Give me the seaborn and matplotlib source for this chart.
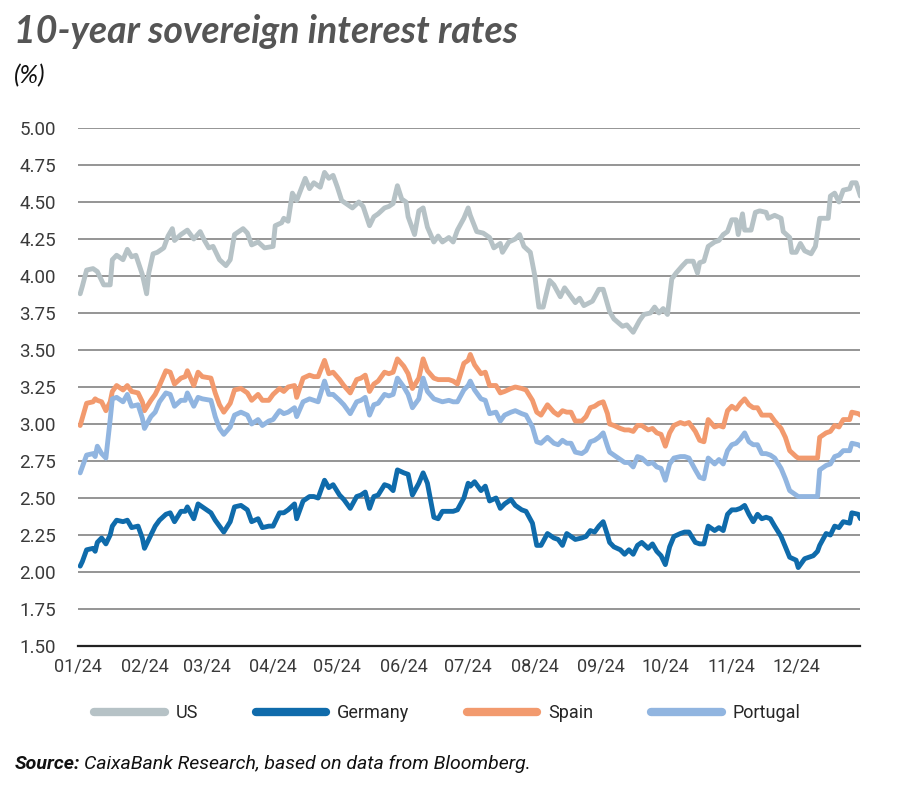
import pandas as pd
import numpy as np
import matplotlib
matplotlib.use("Agg")
import matplotlib.pyplot as plt
import matplotlib.dates as mdates
import seaborn as sns

# ---- data (day offsets from 1 Jan 2024) ----
us_days = [1, 2, 4, 7, 9, 12, 15, 16, 18, 21, 23, 25, 27, 30, 32, 33, 35, 37, 40, 42,
           44, 45, 48, 51, 54, 57, 59, 61, 63, 66, 69, 71, 73, 77, 79, 81, 84, 87, 91, 92,
           95, 96, 98, 100, 102, 106, 108, 110, 113, 115, 117, 119, 121, 123, 125, 128, 131, 133, 136, 138,
           140, 143, 145, 147, 149, 151, 153, 154, 157, 159, 161, 163, 166, 168, 170, 173, 175, 177, 180, 182,
           183, 186, 189, 192, 194, 197, 198, 201, 204, 206, 208, 211, 213, 215, 217, 220, 222, 225, 227, 229,
           232, 234, 236, 240, 243, 245, 248, 250, 254, 256, 259, 262, 264, 267, 269, 271, 273, 275, 277, 279,
           282, 284, 287, 289, 290, 292, 294, 297, 299, 301, 303, 305, 307, 308, 310, 311, 314, 316, 318, 321,
           322, 325, 328, 329, 332, 333, 335, 337, 339, 342, 344, 346, 350, 351, 353, 355, 357, 360, 361, 363,
           365]
us_rates = [3.88, 3.93, 4.04, 4.05, 4.03, 3.94, 3.94, 4.11, 4.14, 4.11, 4.18, 4.13, 4.14, 4.01, 3.88, 4.02, 4.15, 4.16, 4.19, 4.27,
            4.32, 4.24, 4.28, 4.31, 4.25, 4.30, 4.24, 4.19, 4.20, 4.11, 4.07, 4.11, 4.28, 4.32, 4.29, 4.21, 4.23, 4.19, 4.20, 4.34,
            4.36, 4.39, 4.37, 4.56, 4.51, 4.66, 4.59, 4.63, 4.60, 4.70, 4.66, 4.68, 4.60, 4.51, 4.49, 4.46, 4.50, 4.47, 4.34, 4.40,
            4.42, 4.46, 4.47, 4.49, 4.61, 4.52, 4.50, 4.40, 4.28, 4.44, 4.46, 4.33, 4.23, 4.27, 4.23, 4.26, 4.23, 4.31, 4.39, 4.46,
            4.41, 4.30, 4.29, 4.26, 4.19, 4.22, 4.16, 4.23, 4.25, 4.28, 4.20, 4.16, 4.01, 3.79, 3.79, 3.97, 3.94, 3.86, 3.92, 3.88,
            3.82, 3.85, 3.80, 3.83, 3.91, 3.91, 3.76, 3.71, 3.66, 3.67, 3.62, 3.70, 3.74, 3.75, 3.79, 3.75, 3.78, 3.74, 3.98, 4.02,
            4.07, 4.10, 4.10, 4.02, 4.09, 4.10, 4.20, 4.23, 4.24, 4.28, 4.30, 4.38, 4.38, 4.28, 4.42, 4.31, 4.31, 4.43, 4.44, 4.43,
            4.39, 4.41, 4.39, 4.30, 4.26, 4.16, 4.16, 4.22, 4.17, 4.15, 4.20, 4.39, 4.39, 4.54, 4.56, 4.50, 4.58, 4.59, 4.63, 4.63,
            4.54]

eu_days = [1, 2, 4, 7, 8, 9, 11, 13, 15, 16, 18, 21, 23, 25, 28, 30, 31, 34, 36, 38,
           41, 43, 45, 48, 50, 51, 54, 56, 58, 62, 64, 66, 68, 71, 73, 76, 79, 81, 84, 86,
           89, 91, 94, 96, 98, 101, 102, 105, 108, 110, 112, 115, 117, 119, 122, 124, 127, 130, 132, 134,
           136, 138, 140, 143, 145, 147, 149, 152, 154, 156, 159, 161, 163, 166, 168, 170, 173, 175, 177, 180,
           182, 183, 185, 188, 190, 192, 195, 197, 199, 202, 204, 207, 209, 212, 214, 216, 219, 222, 224, 226,
           228, 230, 232, 235, 237, 239, 241, 243, 245, 247, 248, 250, 253, 255, 257, 259, 261, 263, 266, 268,
           270, 272, 274, 276, 278, 281, 283, 285, 288, 290, 292, 294, 297, 299, 301, 303, 305, 307, 309, 311,
           313, 315, 317, 319, 321, 323, 325, 328, 330, 332, 335, 336, 339, 341, 343, 345, 346, 349, 351, 353,
           355, 357, 360, 361, 364, 365]
spain = [2.99, 3.04, 3.14, 3.15, 3.17, 3.16, 3.15, 3.09, 3.15, 3.22, 3.26, 3.23, 3.26, 3.22, 3.21, 3.15, 3.09, 3.16, 3.20, 3.26,
         3.36, 3.35, 3.27, 3.31, 3.32, 3.36, 3.26, 3.35, 3.32, 3.31, 3.21, 3.13, 3.08, 3.14, 3.23, 3.24, 3.21, 3.16, 3.20, 3.16,
         3.16, 3.20, 3.24, 3.22, 3.25, 3.26, 3.18, 3.31, 3.33, 3.32, 3.32, 3.43, 3.34, 3.35, 3.30, 3.26, 3.21, 3.30, 3.31, 3.33,
         3.22, 3.27, 3.29, 3.35, 3.34, 3.35, 3.44, 3.39, 3.34, 3.24, 3.31, 3.44, 3.36, 3.31, 3.30, 3.30, 3.30, 3.29, 3.27, 3.41,
         3.43, 3.47, 3.40, 3.34, 3.35, 3.26, 3.26, 3.21, 3.22, 3.24, 3.25, 3.24, 3.23, 3.16, 3.08, 3.06, 3.13, 3.08, 3.06, 3.09,
         3.08, 3.08, 3.02, 3.02, 3.05, 3.11, 3.12, 3.14, 3.15, 3.07, 3.00, 2.99, 2.97, 2.96, 2.96, 2.95, 2.99, 2.99, 2.96, 2.97,
         2.94, 2.93, 2.85, 2.94, 2.99, 3.01, 3.00, 3.01, 2.95, 2.89, 2.88, 3.03, 2.98, 2.99, 2.98, 3.09, 3.12, 3.10, 3.14, 3.17,
         3.13, 3.11, 3.11, 3.06, 3.06, 3.06, 3.02, 2.97, 2.91, 2.82, 2.78, 2.77, 2.77, 2.77, 2.77, 2.77, 2.91, 2.94, 2.95, 2.99,
         2.98, 3.03, 3.03, 3.08, 3.07, 3.06]
portugal = [2.67, 2.71, 2.79, 2.80, 2.78, 2.85, 2.80, 2.77, 3.03, 3.17, 3.18, 3.15, 3.20, 3.12, 3.13, 3.04, 2.97, 3.05, 3.08, 3.15,
            3.21, 3.20, 3.12, 3.16, 3.16, 3.21, 3.12, 3.18, 3.17, 3.16, 3.05, 2.97, 2.93, 2.98, 3.06, 3.08, 3.06, 3.00, 3.03, 2.99,
            3.02, 3.03, 3.09, 3.07, 3.08, 3.11, 3.05, 3.15, 3.17, 3.16, 3.15, 3.29, 3.20, 3.20, 3.16, 3.13, 3.07, 3.15, 3.16, 3.18,
            3.06, 3.13, 3.14, 3.20, 3.19, 3.20, 3.31, 3.25, 3.20, 3.11, 3.17, 3.31, 3.22, 3.17, 3.16, 3.15, 3.16, 3.15, 3.15, 3.23,
            3.26, 3.29, 3.23, 3.17, 3.16, 3.07, 3.08, 3.02, 3.06, 3.08, 3.09, 3.07, 3.06, 2.98, 2.88, 2.87, 2.91, 2.87, 2.86, 2.89,
            2.87, 2.87, 2.81, 2.80, 2.82, 2.88, 2.89, 2.91, 2.94, 2.85, 2.81, 2.79, 2.76, 2.74, 2.74, 2.71, 2.78, 2.77, 2.73, 2.74,
            2.71, 2.70, 2.62, 2.73, 2.77, 2.78, 2.78, 2.77, 2.69, 2.64, 2.63, 2.77, 2.73, 2.76, 2.73, 2.82, 2.86, 2.87, 2.90, 2.94,
            2.88, 2.86, 2.86, 2.80, 2.80, 2.79, 2.77, 2.70, 2.63, 2.55, 2.52, 2.51, 2.51, 2.51, 2.51, 2.51, 2.69, 2.72, 2.73, 2.78,
            2.79, 2.82, 2.82, 2.87, 2.86, 2.85]
germany = [2.04, 2.07, 2.15, 2.16, 2.14, 2.20, 2.23, 2.19, 2.25, 2.31, 2.35, 2.34, 2.35, 2.30, 2.31, 2.23, 2.16, 2.25, 2.31, 2.35,
           2.39, 2.40, 2.34, 2.41, 2.41, 2.44, 2.36, 2.46, 2.44, 2.40, 2.35, 2.31, 2.27, 2.34, 2.44, 2.45, 2.42, 2.34, 2.36, 2.30,
           2.31, 2.31, 2.40, 2.40, 2.42, 2.46, 2.36, 2.48, 2.51, 2.51, 2.50, 2.62, 2.57, 2.59, 2.52, 2.49, 2.43, 2.51, 2.52, 2.54,
           2.43, 2.51, 2.52, 2.59, 2.58, 2.55, 2.69, 2.67, 2.66, 2.52, 2.60, 2.67, 2.60, 2.37, 2.36, 2.41, 2.41, 2.41, 2.42, 2.50,
           2.60, 2.58, 2.61, 2.55, 2.58, 2.48, 2.50, 2.43, 2.46, 2.49, 2.45, 2.42, 2.41, 2.33, 2.18, 2.18, 2.26, 2.23, 2.22, 2.18,
           2.26, 2.24, 2.22, 2.23, 2.24, 2.28, 2.27, 2.31, 2.34, 2.25, 2.20, 2.17, 2.15, 2.12, 2.15, 2.12, 2.18, 2.20, 2.16, 2.19,
           2.14, 2.11, 2.05, 2.17, 2.24, 2.26, 2.27, 2.27, 2.20, 2.19, 2.19, 2.31, 2.28, 2.30, 2.28, 2.39, 2.42, 2.42, 2.43, 2.45,
           2.39, 2.34, 2.39, 2.36, 2.37, 2.36, 2.31, 2.24, 2.17, 2.10, 2.08, 2.03, 2.09, 2.10, 2.11, 2.14, 2.18, 2.26, 2.25, 2.31,
           2.30, 2.34, 2.33, 2.40, 2.39, 2.36]

series_names = ["US", "Germany", "Spain", "Portugal"]
colors = {"US": "#b6c2c6", "Germany": "#0f6bab", "Spain": "#f29a6e", "Portugal": "#91b5e0"}
y_ticks = [1.50, 1.75, 2.00, 2.25, 2.50, 2.75, 3.00, 3.25, 3.50, 3.75, 4.00, 4.25, 4.50, 4.75, 5.00]

start = pd.Timestamp("2024-01-01")
frames = [
    pd.DataFrame({"days": us_days, "rate": us_rates, "series": "US"}),
    pd.DataFrame({"days": eu_days, "rate": germany, "series": "Germany"}),
    pd.DataFrame({"days": eu_days, "rate": spain, "series": "Spain"}),
    pd.DataFrame({"days": eu_days, "rate": portugal, "series": "Portugal"}),
]
df = pd.concat(frames, ignore_index=True)
df["date"] = start + pd.to_timedelta(df["days"], unit="D")

# ---- style ----
sns.set_style("white")
plt.rcParams["font.family"] = ["Roboto", "DejaVu Sans"]

fig = plt.figure(figsize=(9, 7.95), dpi=100)
ax = fig.add_axes([0.0867, 0.1874, 0.8693, 0.6516])

sns.lineplot(data=df, x="date", y="rate", hue="series", hue_order=series_names,
             palette=colors, linewidth=3.5, estimator=None, sort=True,
             legend=False, ax=ax)

ax.set_ylim(1.5, 5.0)
ax.set_yticks(y_ticks)
ax.set_yticklabels([f"{v:.2f}" for v in y_ticks], fontsize=13.5, color="#3a3a3a")
ax.set_xlim(pd.Timestamp("2024-01-01"), pd.Timestamp("2024-12-31"))
ax.xaxis.set_major_locator(mdates.MonthLocator())
ax.xaxis.set_major_formatter(mdates.DateFormatter("%m/%y"))
for lbl in ax.get_xticklabels():
    lbl.set_fontsize(13)
    lbl.set_color("#3a3a3a")
ax.set_xlabel("")
ax.set_ylabel("")

ax.grid(axis="y", color="#8c8c8c", linewidth=1.3)
ax.grid(axis="x", visible=False)
ax.set_axisbelow(True)
for s in ["top", "right", "left"]:
    ax.spines[s].set_visible(False)
ax.spines["bottom"].set_color("#222222")
ax.spines["bottom"].set_linewidth(1.6)
ax.spines["bottom"].set_zorder(5)
ax.tick_params(axis="x", direction="in", length=8, width=1.3, color="#222222", pad=8)
ax.tick_params(axis="y", length=0, pad=16)

# legend
handles = [plt.Line2D([], [], color=colors[n], linewidth=6, solid_capstyle="round") for n in series_names]
fig.legend(handles, series_names, loc="center", bbox_to_anchor=(0.497, 0.103), ncol=4,
           frameon=False, fontsize=13, handlelength=3.9, handletextpad=0.6,
           columnspacing=3.2)

# titles
fig.text(0.016, 0.960, "10-year sovereign interest rates", fontsize=27, fontweight="bold",
         fontstyle="italic", color="#555555", family=["Lato", "DejaVu Sans"], va="center")
fig.text(0.016, 0.905, "(%)", fontsize=18, fontstyle="italic", color="#111111",
         family=["Lato", "DejaVu Sans"], va="center")

# source line
t1 = fig.text(0.016, 0.039, "Source:", fontsize=14, fontweight="bold", fontstyle="italic",
              color="#111111", va="center")
fig.canvas.draw()
bb = t1.get_window_extent(renderer=fig.canvas.get_renderer())
x_next = bb.x1 / fig.bbox.width + 0.004
fig.text(x_next, 0.039, "CaixaBank Research, based on data from Bloomberg.", fontsize=14,
         fontstyle="italic", color="#111111", va="center")

fig.savefig("out.png", dpi=100)
